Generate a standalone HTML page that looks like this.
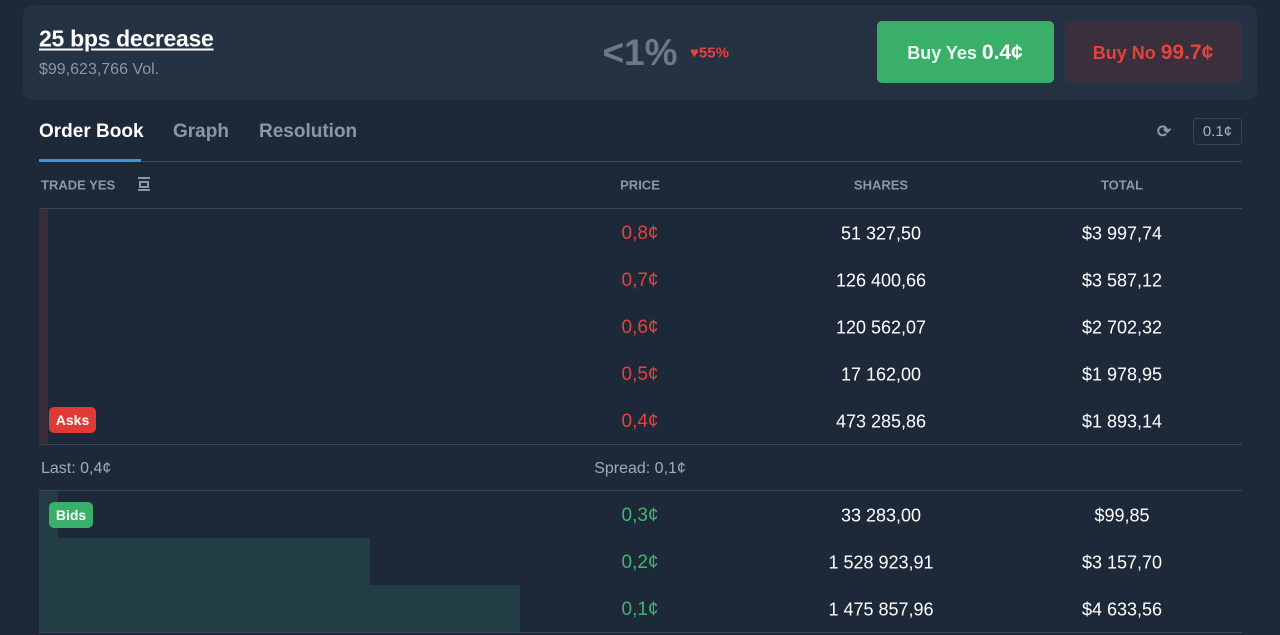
<!DOCTYPE html>
<html><head><style>
body{margin:0;width:1280px;height:635px;background:#1d2939;font-family:"Liberation Sans",sans-serif;position:relative;overflow:hidden;color:#fff}
.a{position:absolute}
.c{position:absolute;transform:translate(-50%,-50%);white-space:nowrap;margin-top:1px}
.l{position:absolute;transform:translateY(-50%);white-space:nowrap;margin-top:1px}
.hr{position:absolute;left:39px;width:1203px;height:1px;background:#3a4759}
.red{color:#e5423d}.grn{color:#3fb56d}
.h{font-weight:bold;font-size:13px;color:#8a97a8}
</style></head><body>
<div class="a" style="left:23px;top:5px;width:1234px;height:95px;background:#243244;border-radius:10px"></div>
<div class="l" style="left:39px;top:38px;font-size:23px;text-decoration:underline;font-weight:bold;letter-spacing:-0.3px">25 bps decrease</div>
<div class="l" style="left:39px;top:69px;font-size:16px;color:#8a97a8">$99,623,766 Vol.</div>
<div class="c" style="left:640px;top:52px;font-size:37px;color:#6b7888;font-weight:bold">&lt;1%</div>
<div class="l red" style="left:690px;top:52px;font-size:15px;font-weight:bold">♥55%</div>
<div class="a" style="left:877px;top:21px;width:177px;height:62px;background:#3aaf6a;border-radius:5px"></div>
<div class="c" style="left:965px;top:52px;font-size:18px;font-weight:bold;color:#eafaf0">Buy Yes <span style="font-size:21px;color:#fff">0.4¢</span></div>
<div class="a" style="left:1065px;top:21px;width:177px;height:62px;background:#3a2f3c;border-radius:5px"></div>
<div class="c red" style="left:1153px;top:52px;font-size:18px;font-weight:bold">Buy No <span style="font-size:21px">99.7¢</span></div>
<div class="l" style="left:39px;top:131px;font-size:19px;font-weight:bold">Order Book</div>
<div class="l" style="left:173px;top:131px;font-size:19px;color:#8a97a8;font-weight:bold">Graph</div>
<div class="l" style="left:259px;top:131px;font-size:19px;color:#8a97a8;font-weight:bold">Resolution</div>
<div class="c" style="left:1164px;top:131px;font-size:17px;color:#8a97a8;font-weight:bold">⟳</div>
<div class="a" style="left:1193px;top:118px;width:47px;height:25px;border:1px solid #34425a;border-radius:4px;font-size:15px;color:#a8b3c2;text-align:center;line-height:25px">0.1¢</div>
<div class="hr" style="top:161px"></div>
<div class="a" style="left:39px;top:159px;width:102px;height:3px;background:#2f9ae0"></div>
<div class="l h" style="left:41px;top:184px">TRADE YES</div>
<div class="a" style="left:138px;top:177px;width:12px;height:14px;border-top:2px solid #8a97a8;border-bottom:2px solid #8a97a8;box-sizing:border-box"><div class="a" style="left:1px;top:2px;width:6px;height:3px;border:2px solid #8a97a8"></div></div>
<div class="c h" style="left:640px;top:184px">PRICE</div>
<div class="c h" style="left:881px;top:184px">SHARES</div>
<div class="c h" style="left:1122px;top:184px">TOTAL</div>
<div class="hr" style="top:208px"></div>
<div class="a" style="left:39px;top:209px;width:9px;height:235px;background:#3a2b38"></div>
<div class="a" style="left:49px;top:407px;width:47px;height:26px;background:#e03a37;border-radius:5px;font-size:14px;text-align:center;line-height:26px;font-weight:bold">Asks</div>
<div class="c red" style="left:640px;top:233px;font-size:19px">0,8¢</div><div class="c" style="left:881px;top:233px;font-size:18px">51 327,50</div><div class="c" style="left:1122px;top:233px;font-size:18px">$3 997,74</div>
<div class="c red" style="left:640px;top:280px;font-size:19px">0,7¢</div><div class="c" style="left:881px;top:280px;font-size:18px">126 400,66</div><div class="c" style="left:1122px;top:280px;font-size:18px">$3 587,12</div>
<div class="c red" style="left:640px;top:327px;font-size:19px">0,6¢</div><div class="c" style="left:881px;top:327px;font-size:18px">120 562,07</div><div class="c" style="left:1122px;top:327px;font-size:18px">$2 702,32</div>
<div class="c red" style="left:640px;top:374px;font-size:19px">0,5¢</div><div class="c" style="left:881px;top:374px;font-size:18px">17 162,00</div><div class="c" style="left:1122px;top:374px;font-size:18px">$1 978,95</div>
<div class="c red" style="left:640px;top:421px;font-size:19px">0,4¢</div><div class="c" style="left:881px;top:421px;font-size:18px">473 285,86</div><div class="c" style="left:1122px;top:421px;font-size:18px">$1 893,14</div>
<div class="hr" style="top:444px"></div>
<div class="l" style="left:41px;top:468px;font-size:16px;color:#a0abb9">Last: 0,4¢</div>
<div class="c" style="left:640px;top:468px;font-size:16px;color:#a0abb9">Spread: 0,1¢</div>
<div class="hr" style="top:490px"></div>
<div class="a" style="left:39px;top:491px;width:19px;height:47px;background:#233d44"></div>
<div class="a" style="left:39px;top:538px;width:331px;height:47px;background:#233d44"></div>
<div class="a" style="left:39px;top:585px;width:481px;height:47px;background:#233d44"></div>
<div class="a" style="left:49px;top:502px;width:44px;height:26px;background:#3aaf6a;border-radius:5px;font-size:14px;text-align:center;line-height:26px;font-weight:bold">Bids</div>
<div class="c grn" style="left:640px;top:515px;font-size:19px">0,3¢</div><div class="c" style="left:881px;top:515px;font-size:18px">33 283,00</div><div class="c" style="left:1122px;top:515px;font-size:18px">$99,85</div>
<div class="c grn" style="left:640px;top:562px;font-size:19px">0,2¢</div><div class="c" style="left:881px;top:562px;font-size:18px">1 528 923,91</div><div class="c" style="left:1122px;top:562px;font-size:18px">$3 157,70</div>
<div class="c grn" style="left:640px;top:609px;font-size:19px">0,1¢</div><div class="c" style="left:881px;top:609px;font-size:18px">1 475 857,96</div><div class="c" style="left:1122px;top:609px;font-size:18px">$4 633,56</div>
<div class="hr" style="top:632px"></div>
</body></html>
